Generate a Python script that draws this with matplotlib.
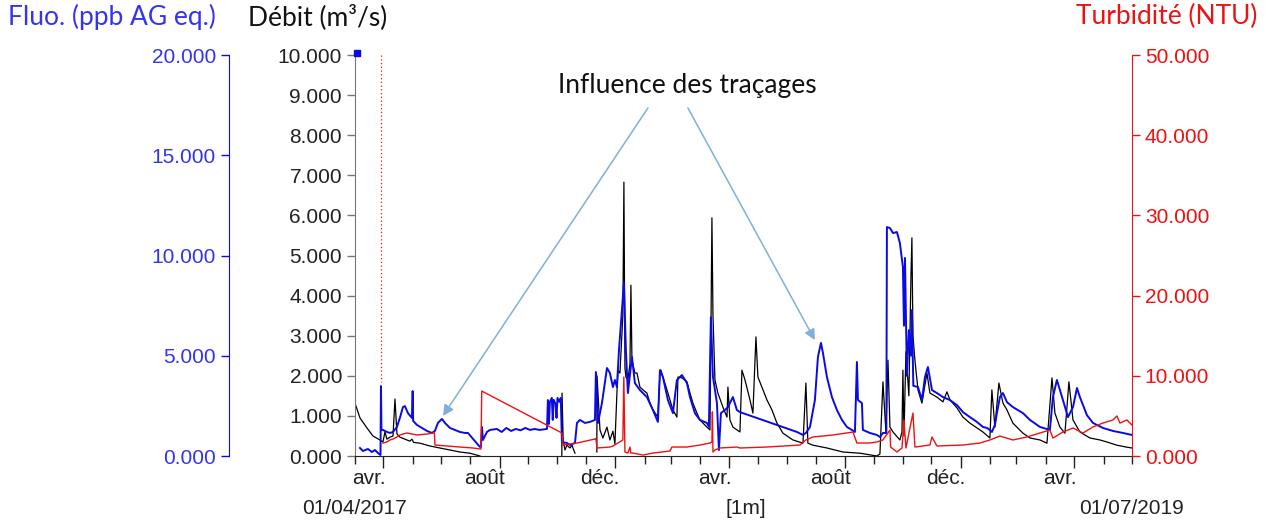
import numpy as np
import matplotlib
matplotlib.use('Agg')
import matplotlib.pyplot as plt
import matplotlib.dates as mdates
from matplotlib.ticker import MultipleLocator, FormatStrFormatter

START = np.datetime64('2017-04-01')
END = np.datetime64('2019-07-01')
NAN = np.nan

# Débit (m3/s) -- days since START, value
debit_day = [0, 5.3, 12.7, 19.0, 26.4, 29.6, 31.7, 33.8, 37.0, 40.2, 42.3, 44.4, 47.5,
             58.1, 60.2, 62.0, 68.7, 79.2, 89.8, 100.4, 110.9, 121.5, 132.1, 133,
             218.6, 218.8, 220.0, 221.9, 224.0, 227.2, 229.3, 232.5, 233,
             255.6, 255.8, 258.9, 262.0, 266.3, 269.4, 272.6, 274.7, 276.8, 277.9, 280.0,
             283.1, 284.2, 285.3, 286.3, 288.4, 290.6, 291.6, 292.7, 295.8, 298.0, 301.1,
             304.3, 308.5, 311.7, 314.9, 320.1, 322.3, 323.3, 325.4, 329.7, 332.8, 336.0,
             340.2, 341.3, 345.5, 350.8, 354.0, 357.1, 361.4, 364.5, 371.9, 375.1, 376.1,
             377.2, 378.3, 380.4, 383.5, 388.8, 393.1, 394.1, 396.2, 399.4, 403.6, 406.8,
             408.9, 412.1, 417.4, 420.5, 423.7, 425.8, 431.1, 435.3, 440.6, 445.9, 452.2,
             462.8, 473.4, 476.5, 478.6, 483.9, 498.7, 515.6, 533.6, 551.5, 554.7, 557.9,
             561.1, 563.2, 565.3, 568.5, 575.8, 578.0, 579.0, 580.1, 582.2, 585.3, 587.5,
             588.5, 589.6, 591.7, 594.9, 599.1, 604.4, 607.5, 614.9, 621.3, 625.5, 628.7,
             636.1, 642.4, 649.8, 657.2, 663.5, 670.9, 673.0, 676.2, 680.4, 684.7, 688.9,
             695.2, 705.8, 713.2, 723.8, 731.2, 736.5, 739.6, 744.9, 750.2, 754.4, 758.7,
             766.0, 776.6, 787.2, 794.5, 805.1, 815.7, 821.0]
debit_val = [1.32, 0.95, 0.70, 0.50, 0.40, 0.35, 0.60, 0.42, 0.47, 0.50, 1.42, 0.55, 0.47,
             0.37, 0.42, 0.34, 0.32, 0.25, 0.20, 0.15, 0.10, 0.07, 0.0, NAN,
             0.0, 1.57, 0.40, 0.15, 0.27, 0.20, 0.27, 0.07, NAN,
             0.10, 2.0, 0.65, 0.45, 0.72, 0.40, 0.62, 0.30, 1.57, 2.14, 2.07,
             3.5, 6.83, 2.2, 1.97, 1.90, 2.3, 4.26, 2.39, 2.07, 2.07, 1.72,
             1.65, 1.57, 1.32, 1.15, 0.97, 2.07, 2.14, 1.97, 1.65, 1.40, 1.15,
             0.97, 1.97, 1.95, 1.85, 1.57, 1.32, 1.07, 0.90, 0.72, 0.65, 3.0,
             5.94, 3.5, 1.90, 1.57, 1.22, 0.97, 1.72, 0.90, 0.72, 0.65, 0.60,
             2.14, 1.90, 1.40, 1.07, 2.97, 1.97, 1.65, 1.40, 1.15, 0.82, 0.57,
             0.40, 0.32, 1.82, 0.32, 0.27, 0.20, 0.10, 0.07, 0.0, 0.05, 1.85,
             0.57, 2.39, 0.72, 0.60, 0.40, 0.6, 2.14, 0.5, 2.6, 1.5, 4.5,
             5.44, 3.0, 2.39, 1.65, 1.32, 2.07, 1.57, 1.47, 1.35, 1.60, 1.40,
             1.20, 0.97, 0.82, 0.70, 0.60, 0.45, 1.65, 0.72, 1.82, 1.32, 1.15,
             0.82, 0.57, 0.45, 0.40, 0.32, 1.95, 1.07, 0.72, 0.57, 1.85, 0.90,
             0.60, 0.45, 0.40, 0.35, 0.27, 0.22, 0.20]

# Fluorescence (ppb AG eq.)
fluo_day = [5.3, 8.5, 13.7, 18.0, 21.1, 24.3, 27.0, 27.5, 28.0, 29.6, 33.8, 37.0, 40.2,
            44.4, 47.5, 50.7, 52.8, 56.0, 60.2, 61.0, 61.5, 65.5, 70.8, 76.1, 81.4,
            84.5, 87.7, 91.9, 95.1, 100.4, 105.7, 110.9, 116.2, 119.4, 132.1, 133.1,
            134.2, 135.2, 139.5, 142.6, 150, 155, 160, 165, 170, 175, 180, 185, 190,
            195, 202.9, 203.9, 205, 206, 208, 209, 210, 212, 213, 214, 216, 217.5,
            218.7, 224.0, 227.2, 232.5, 234.6, 237.7, 243, 248.3, 253.6, 254.6, 256.8,
            261.0, 266.3, 269.4, 272.6, 274.7, 276.8, 279.0, 284.2, 286.3, 288.4, 292.7,
            295.8, 301.1, 308.5, 314.9, 320.1, 322.3, 325.4, 330.7, 336.0, 340.2, 345.5,
            350.8, 354.0, 359.2, 364.5, 371.9, 374.0, 376.1, 378.3, 382.5, 384.6, 386.7,
            390.9, 394.1, 399.4, 403.6, 406.8, 467.0, 473.4, 476.5, 480.8, 486.0, 489.2,
            492.4, 494.5, 498.7, 504.0, 509.3, 514.6, 519.8, 525.1, 528.3, 530.4, 531.5,
            535.7, 536.7, 544.1, 551.5, 554.7, 557.9, 561.5, 562.1, 565.3, 568.5, 572.7,
            575.8, 579.0, 580.1, 581.2, 583.2, 585.3, 587.5, 588.5, 590.0, 594.9, 599.1,
            602.3, 605.4, 609.7, 614.9, 621.3, 628.7, 636.1, 642.4, 649.8, 657.2, 663.5,
            667.8, 670.9, 673.0, 676.2, 678.3, 681.5, 684.7, 688.9, 695.2, 705.8, 713.2,
            723.8, 734.3, 737.5, 741.7, 748.1, 753.4, 758.7, 762.9, 766.0, 773.4, 779.8,
            790.3, 800.9, 811.5, 821.0]
fluo_val = [0.40, 0.25, 0.35, 0.20, 0.30, 0.15, 0.05, 3.49, 1.30, 1.30, 1.20, 1.15, 1.20,
            1.45, 1.90, 2.44, 2.49, 2.14, 1.90, 3.24, 1.75, 1.55, 1.40, 1.25, 1.15,
            1.25, 1.65, 1.85, 1.65, 1.40, 1.30, 1.20, 1.15, 1.15, 0.45, 0.45,
            1.45, 0.80, 1.20, 1.30, 1.35, 1.20, 1.40, 1.25, 1.35, 1.28, 1.40, 1.30, 1.35,
            1.30, 1.35, 2.79, 1.60, 2.70, 2.90, 1.80, 2.80, 2.60, 1.90, 2.90, 2.70, 2.90,
            0.70, 0.65, 0.55, 0.65, 1.65, 1.80, 1.65, 1.70, 1.80, 4.19, 1.65,
            2.64, 4.39, 4.14, 3.44, 3.79, 3.44, 5.29, 8.63, 5.29, 3.14, 4.94,
            3.64, 3.29, 2.94, 2.29, 1.70, 4.29, 3.94, 2.79, 2.14, 3.79, 4.04,
            3.64, 2.94, 2.14, 1.80, 1.65, 1.45, 6.93, 3.94, 2.64, 0.30, 2.14,
            2.29, 2.44, 2.94, 2.29, 2.19, 1.20, 1.05, 1.15, 1.45, 2.79, 4.94,
            5.64, 5.14, 3.94, 2.94, 2.29, 1.80, 1.45, 1.30, 1.20, 4.69, 2.79,
            2.64, 1.30, 1.15, 1.05, 0.95, 1.15, 1.15, 11.42, 11.37, 11.12, 11.17,
            10.62, 9.43, 6.5, 9.88, 4.0, 6.28, 5.0, 7.28, 3.5, 3.44, 2.79,
            3.94, 4.44, 3.29, 3.14, 2.94, 2.79, 2.54, 2.19, 1.94, 1.70, 1.45,
            1.40, 1.30, 1.20, 1.55, 2.14, 2.94, 3.14, 2.69, 2.44, 2.14, 1.80,
            1.45, 1.30, 2.94, 3.79, 2.79, 1.94, 2.44, 3.39, 2.94, 2.04, 1.65,
            1.40, 1.25, 1.15, 1.05]
fluo_flag = (2.0, 20.1)

# Turbidité (NTU)
turb_day = [29.6, 33.8, 37.0, 40.2, 44.4, 47.5, 50.7, 54.9, 65.5, 76.1, 82.4, 84.0, 84.5,
            97.2, 110.9, 124.7, 133.1, 134.0, 218.7, 219.8, 234.6, 253.6, 254.6, 255.7,
            269.4, 272.6, 277.9, 283.1, 284.1, 285.3, 288.4, 290.6, 291.5, 293.7, 304.3,
            314.9, 332.8, 334.9, 350.8, 364.5, 375.1, 377.2, 377.7, 378.3, 380.4, 385.7,
            403.6, 406.8, 435.3, 470.2, 476.5, 483.9, 505.1, 526.2, 530.4, 544.1, 551.5,
            557.9, 565.3, 566.0, 572.7, 578.0, 580.1, 582.2, 589.6, 591.7, 607.5, 609.7,
            614.9, 642.4, 660.4, 670.9, 681.5, 695.2, 710.0, 723.8, 734.3, 737.5, 748.1,
            758.7, 769.2, 779.8, 790.3, 800.9, 805.1, 808.3, 815.7, 821.0]
turb_val = [1.62, 1.75, 2.0, 2.12, 2.37, 2.62, 2.74, 2.87, 2.62, 2.74, 2.87, 2.9, 1.37,
            1.25, 1.12, 1.0, 0.87, 8.10, 2.87, 1.37, 1.62, 2.12, 2.2, 1.0,
            1.12, 1.25, 1.62, 2.0, 9.85, 0.5, 0.37, 1.12, 0.37, 0.37, 0.12,
            0.37, 0.62, 1.12, 1.12, 1.37, 1.62, 1.75, 5.5, 0.5, 0.75, 1.0,
            1.12, 1.0, 1.12, 1.37, 2.0, 2.37, 2.62, 2.99, 1.62, 1.62, 1.75,
            2.0, 3.24, 1.12, 0.5, 1.0, 4.49, 1.0, 5.36, 1.12, 1.37, 2.37,
            1.25, 1.37, 1.62, 2.0, 2.49, 2.0, 2.37, 2.87, 3.24, 2.24, 2.99,
            3.49, 2.87, 3.62, 4.11, 4.49, 4.99, 4.11, 4.49, 3.87]
# gap in the turbidity record, drawn dotted
turb_gap_day = [27.5, 27.5]
turb_gap_val = [50.0, 9.2]

month_labels = ['avr.', 'août', 'déc.', 'avr.', 'août', 'déc.', 'avr.']
month_label_dates = ['2017-04-16', '2017-08-16', '2017-12-16', '2018-04-16',
                     '2018-08-16', '2018-12-16', '2019-04-16']

# caption and arrows (day, débit units)
caption = 'Influence des traçages'
caption_pos = (351.0, 9.23)
arrow_tails = [(309.6, 8.68), (351.8, 8.68)]
arrow_heads = [(93.0, 1.0), (486.0, 2.89)]

BLUE = '#0a0ae6'
BLUE_TXT = '#3333f0'
RED = '#ee1111'
DARK = '#222222'
ARROW = '#7fb0da'
LABEL_FONT = 'Lato'

plt.rcParams['font.family'] = ['Liberation Sans', 'DejaVu Sans']


def to_dates(days):
    secs = (np.asarray(days, dtype=float) * 86400).astype('int64')
    return START + secs * np.timedelta64(1, 's')


def to_num(day):
    return mdates.date2num(to_dates([day]))[0]


fig = plt.figure(figsize=(12.69, 5.27), dpi=100)
ax = fig.add_axes([0.2797, 0.1347, 0.6123, 0.7609])
ax_f = ax.twinx()
ax_t = ax.twinx()

ax.plot(to_dates(debit_day), debit_val, color='black', lw=0.9)
ax_f.plot(to_dates(fluo_day), fluo_val, color=BLUE, lw=1.4)
ax_f.plot(to_dates([fluo_flag[0]]), [fluo_flag[1]], 's', color=BLUE, ms=5, clip_on=False)
ax_t.plot(to_dates(turb_day), turb_val, color=RED, lw=1.0)
ax_t.plot(to_dates(turb_gap_day), turb_gap_val, color=RED, lw=0.9, ls=(0, (1, 2)))

ax.set_xlim(START, END)
ax.set_ylim(0, 10)
ax_f.set_ylim(0, 20)
ax_t.set_ylim(0, 50)

# x axis: long ticks every four months, short ticks every month
ax.xaxis.set_major_locator(mdates.MonthLocator(bymonth=[1, 5, 9]))
ax.xaxis.set_minor_locator(mdates.MonthLocator())
ax.xaxis.set_major_formatter(plt.NullFormatter())
ax.tick_params(axis='x', which='major', length=8.6, width=1, color=DARK)
ax.tick_params(axis='x', which='minor', length=5.8, width=1, color=DARK)
xt = ax.get_xaxis_transform()
for lab, d in zip(month_labels, month_label_dates):
    ax.text(np.datetime64(d), -0.055, lab, transform=xt,
            ha='center', va='center', fontsize=15, color=DARK)
ax.text(START, -0.13, '01/04/2017', transform=xt, ha='center', va='center',
        fontsize=15, color=DARK)
ax.text(END, -0.13, '01/07/2019', transform=xt, ha='center', va='center',
        fontsize=15, color=DARK)
ax.text(0.503, -0.13, '[1m]', transform=ax.transAxes, ha='center', va='center',
        fontsize=15, color=DARK)

# débit axis
ax.yaxis.set_major_locator(MultipleLocator(1))
ax.yaxis.set_major_formatter(FormatStrFormatter('%.3f'))
ax.tick_params(axis='y', length=5.8, width=1, color='#777777', labelsize=15, labelcolor=DARK)
ax.spines['left'].set_color('#777777')
ax.spines['top'].set_visible(False)
ax.spines['right'].set_visible(False)
ax.spines['bottom'].set_color(DARK)

# fluorescence axis, offset to the left
ax_f.spines['left'].set_position(('axes', -0.1622))
ax_f.spines['left'].set_visible(True)
ax_f.spines['left'].set_color(BLUE)
for s in ('right', 'top', 'bottom'):
    ax_f.spines[s].set_visible(False)
ax_f.yaxis.set_ticks_position('left')
ax_f.yaxis.set_major_locator(MultipleLocator(5))
ax_f.yaxis.set_major_formatter(FormatStrFormatter('%.3f'))
ax_f.tick_params(axis='y', length=5.8, width=1, color=BLUE, labelsize=15, labelcolor=BLUE_TXT)

# turbidity axis
ax_t.spines['right'].set_color(RED)
for s in ('left', 'top', 'bottom'):
    ax_t.spines[s].set_visible(False)
ax_t.yaxis.set_major_locator(MultipleLocator(10))
ax_t.yaxis.set_major_formatter(FormatStrFormatter('%.3f'))
ax_t.tick_params(axis='y', length=5.8, width=1, color=RED, labelsize=15, labelcolor=RED)

fig.text(0.0063, 0.968, 'Fluo. (ppb AG eq.)', ha='left', va='center',
         fontsize=19, family=LABEL_FONT, color=BLUE_TXT)
fig.text(0.2506, 0.968, 'Débit (m³/s)', ha='center', va='center',
         fontsize=19, family=LABEL_FONT, color='#111111')
fig.text(0.9905, 0.968, 'Turbidité (NTU)', ha='right', va='center',
         fontsize=19, family=LABEL_FONT, color=RED)

# caption with arrows pointing at the tracer peaks
ax_t.text(to_num(caption_pos[0]), caption_pos[1], caption, transform=ax.transData,
          ha='center', va='center', fontsize=19, family=LABEL_FONT, color='#111111')
for (x0, y0), (x1, y1) in zip(arrow_tails, arrow_heads):
    ax_t.annotate('', xy=(to_num(x1), y1), xytext=(to_num(x0), y0),
                  xycoords=ax.transData, textcoords=ax.transData,
                  arrowprops=dict(arrowstyle='-|>', color=ARROW, lw=1.1,
                                  mutation_scale=16, shrinkA=0, shrinkB=0))

fig.savefig('out.png', dpi=100)
